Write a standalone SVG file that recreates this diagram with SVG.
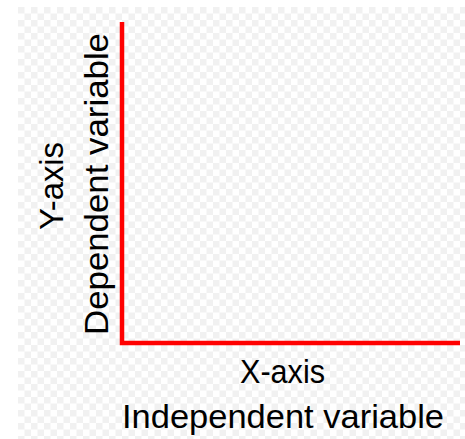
<svg xmlns="http://www.w3.org/2000/svg" width="465" height="439" viewBox="0 0 465 439">
  <defs>
    <pattern id="checker" x="18" y="7" width="13" height="13" patternUnits="userSpaceOnUse">
      <rect width="13" height="13" fill="#ffffff"/>
      <rect width="6.5" height="6.5" fill="#f1f1f1"/>
      <rect x="6.5" y="6.5" width="6.5" height="6.5" fill="#f1f1f1"/>
    </pattern>
  </defs>
  <style>
    .lbl { font-family: "Liberation Sans", Arial, sans-serif; font-size: 34px; fill: #000000; text-anchor: middle; }
    .axis { fill: none; stroke: #ff0000; stroke-width: 4.5; stroke-linejoin: miter; stroke-linecap: butt; }
  </style>
  <rect width="465" height="439" fill="#ffffff"/>
  <rect x="18" y="7" width="447" height="432" fill="url(#checker)"/>
  <g id="connectors">
    <polyline class="axis" points="122,22 122,343 460,343"/>
  </g>
  <g id="y-label">
    <text class="lbl" transform="translate(63,186) rotate(-90)" textLength="88" lengthAdjust="spacingAndGlyphs">Y-axis</text>
    <text class="lbl" transform="translate(108,184) rotate(-90)" textLength="302" lengthAdjust="spacingAndGlyphs">Dependent variable</text>
  </g>
  <g id="x-label">
    <text class="lbl" x="282.5" y="383" textLength="85" lengthAdjust="spacingAndGlyphs">X-axis</text>
    <text class="lbl" x="283" y="428" textLength="322" lengthAdjust="spacingAndGlyphs">Independent variable</text>
  </g>
</svg>
